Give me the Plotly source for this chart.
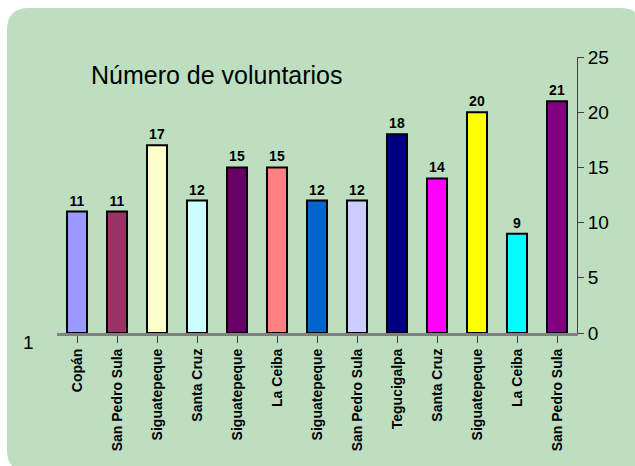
import plotly.graph_objects as go

categories = ["Copán", "San Pedro Sula", "Siguatepeque", "Santa Cruz", "Siguatepeque",
              "La Ceiba", "Siguatepeque", "San Pedro Sula", "Tegucigalpa", "Santa Cruz",
              "Siguatepeque", "La Ceiba", "San Pedro Sula"]
values = [11, 11, 17, 12, 15, 15, 12, 12, 18, 14, 20, 9, 21]
bar_colors = ["#9999FF", "#993366", "#FFFFCC", "#CCFFFF", "#660066", "#FF8080",
              "#0066CC", "#CCCCFF", "#000080", "#FF00FF", "#FFFF00", "#00FFFF", "#800080"]
y_ticks = [0, 5, 10, 15, 20, 25]
title_text = "Número de voluntarios"

FONT = "Liberation Sans, Arial, sans-serif"
W, H = 635, 466
L, R, T, B = 57, 58, 57, 133
pw, ph = W - L - R, H - T - B

x_idx = list(range(len(categories)))

fig = go.Figure()
fig.add_trace(go.Bar(
    x=x_idx, y=values,
    marker=dict(color=bar_colors, line=dict(color="#000000", width=2)),
    width=0.5,
    text=[str(v) for v in values], textposition="outside",
    textfont=dict(family=FONT, size=14, color="#000000", weight="bold"),
    cliponaxis=False,
    hoverinfo="skip",
))

# rounded green background (paper coordinates relative to plot area)
def px2x(px):
    return (px - L) / pw

def py2y(py):
    return (T + ph - py) / ph

x0, x1 = px2x(7), px2x(642)
y1, y0 = py2y(8), py2y(472)
rx, ry = 22 / pw, 22 / ph
path = (f"M {x0+rx},{y1} L {x1-rx},{y1} Q {x1},{y1} {x1},{y1-ry} "
        f"L {x1},{y0+ry} Q {x1},{y0} {x1-rx},{y0} L {x0+rx},{y0} "
        f"Q {x0},{y0} {x0},{y0+ry} L {x0},{y1-ry} Q {x0},{y1} {x0+rx},{y1} Z")
fig.add_shape(type="path", path=path, xref="paper", yref="paper",
              fillcolor="#BDDFC0", line=dict(width=0), layer="below")

fig.add_annotation(text=title_text, xref="paper", yref="paper",
                   x=px2x(89), y=py2y(75), xanchor="left", yanchor="middle",
                   showarrow=False, font=dict(family=FONT, size=25, color="#000000"))
fig.add_annotation(text="1", xref="paper", yref="paper",
                   x=px2x(28), y=py2y(342), xanchor="center", yanchor="middle",
                   showarrow=False, font=dict(family=FONT, size=19, color="#000000"))

fig.update_layout(
    width=W, height=H,
    margin=dict(l=L, r=R, t=T, b=B, pad=0),
    paper_bgcolor="#FFFFFF",
    plot_bgcolor="rgba(0,0,0,0)",
    showlegend=False,
    xaxis=dict(
        range=[-0.5, len(categories) - 0.5],
        tickmode="array", tickvals=x_idx, ticktext=categories,
        tickangle=-90,
        tickfont=dict(family=FONT, size=14, color="#000000", weight="bold"),
        showline=True, linecolor="#808080", linewidth=3,
        ticks="outside", ticklen=7, tickcolor="#404040", tickson="boundaries",
        showgrid=False, zeroline=False, fixedrange=True,
    ),
    yaxis=dict(
        range=[0, 25], side="right",
        tickmode="array", tickvals=y_ticks,
        tickfont=dict(family=FONT, size=19, color="#000000"),
        showline=True, linecolor="#404040", linewidth=1,
        ticks="outside", ticklen=6, tickcolor="#404040",
        showgrid=False, zeroline=False, fixedrange=True,
    ),
)

fig.write_html("out.html",
               config={"displayModeBar": False},
               post_script="document.body.style.margin='0';document.body.style.overflow='hidden';")
